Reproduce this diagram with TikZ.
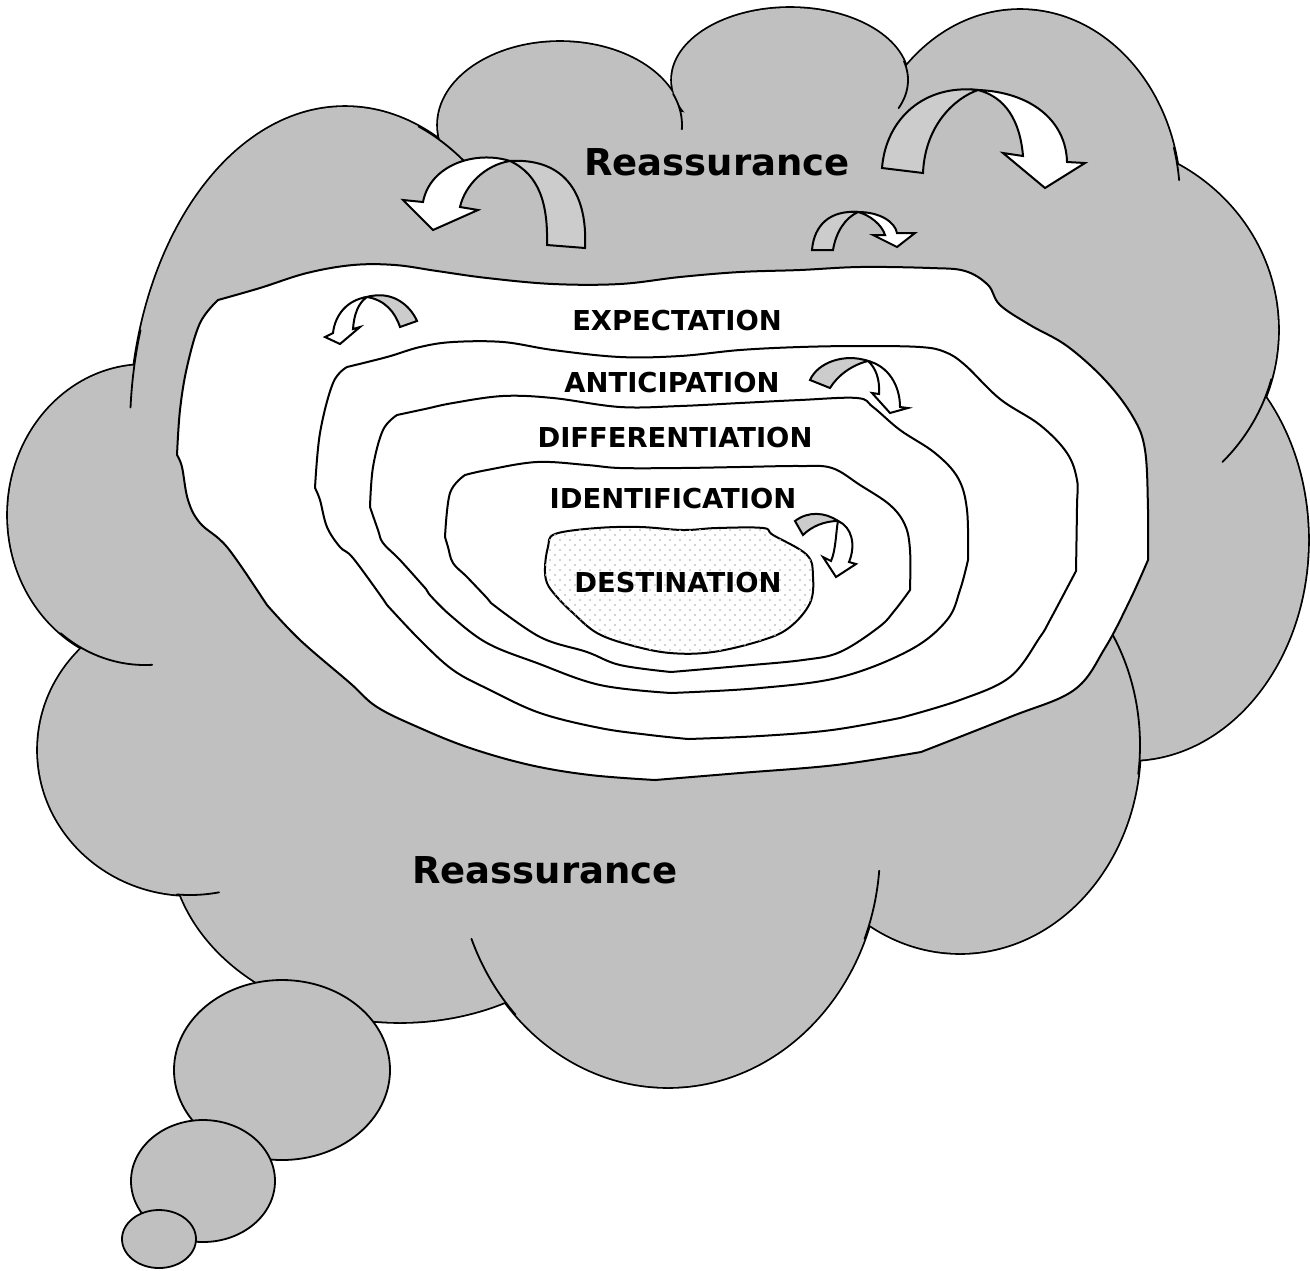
\documentclass[tikz,border=0pt]{standalone}
\usepackage{fontspec}
\setmainfont{DejaVu Sans}
\usetikzlibrary{patterns}
\definecolor{cloudgray}{RGB}{192,192,192}
\definecolor{ribbongray}{RGB}{204,204,204}
\definecolor{dotgray}{RGB}{196,196,196}

% staggered light dots for the innermost zone
\pgfdeclarepatternformonly{softdots}{\pgfqpoint{-1pt}{-1pt}}{\pgfqpoint{6pt}{6pt}}{\pgfqpoint{5pt}{5pt}}{%
  \pgfpathcircle{\pgfqpoint{0pt}{0pt}}{0.55pt}%
  \pgfpathcircle{\pgfqpoint{2.5pt}{2.5pt}}{0.55pt}%
  \pgfusepath{fill}}

% the lobes that make up the thought cloud
\newcommand\cloudlobes[1]{%
  \path[#1] (145,515) ellipse [x radius=137, y radius=150];
  \path[#1] (345,430) ellipse [x radius=215, y radius=323];
  \path[#1] (560,125) ellipse [x radius=122, y radius=83];
  \path[#1] (790,80) ellipse [x radius=118, y radius=72];
  \path[#1] (1020,200) ellipse [x radius=160, y radius=190];
  \path[#1] (1080,330) ellipse [x radius=198, y radius=190];
  \path[#1] (1130,540) ellipse [x radius=178, y radius=220];
  \path[#1] (960,745) ellipse [x radius=180, y radius=208];
  \path[#1] (668,850) ellipse [x radius=212, y radius=237];
  \path[#1] (400,840) ellipse [x radius=230, y radius=182];
  \path[#1] (190,750) ellipse [x radius=152, y radius=145];
}

% a piece of a lobe outline that runs on into the cloud
\newcommand\lobestub[6]{%
  \draw[cloudline] ({#1+#3*cos(#5)},{#2+#4*sin(#5)})
    arc [start angle=#5, end angle=#6, x radius=#3, y radius=#4];}

\begin{document}
\begin{tikzpicture}[x=0.5pt, y=-0.5pt,
  cloudline/.style={line width=0.9pt, line cap=round},
  bandline/.style={line width=1pt, line join=round},
  ribbonback/.style={draw, line width=1pt, fill=ribbongray, line join=miter},
  ribbonfront/.style={draw, line width=1pt, fill=white, line join=miter},
  layertext/.style={font=\bfseries\fontsize{13.7pt}{16pt}\selectfont, anchor=base, inner sep=0pt},
  cloudtext/.style={font=\bfseries\fontsize{18.5pt}{21pt}\selectfont, anchor=base, inner sep=0pt}]

\useasboundingbox (0,0) rectangle (1310,1270);

% cloud: outline first, then the fill hides the inner half of every stroke
\cloudlobes{draw, line width=1.8pt}
\cloudlobes{fill=cloudgray}
\fill[cloudgray] (460,300) -- (460,260) -- (470,175) -- (560,180) -- (680,112)
  -- (790,120) -- (880,110) -- (910,150) -- (900,300) -- cycle;

% outline pieces that continue inside the cloud
\lobestub{345}{430}{215}{323}{198}{184}
\lobestub{345}{430}{215}{323}{290}{306}
\lobestub{560}{125}{122}{83}{-22}{3}
\lobestub{790}{80}{118}{72}{-15}{23}
\lobestub{1020}{200}{160}{190}{-16}{-6}
\lobestub{1080}{330}{198}{190}{15}{44}
\lobestub{145}{515}{137}{150}{128}{87}
\lobestub{190}{750}{152}{145}{95}{79}
\lobestub{668}{850}{212}{237}{136}{158}
\lobestub{668}{850}{212}{237}{22}{5}
\lobestub{960}{745}{180}{208}{8}{-37}

% thought bubbles
\draw[cloudline, fill=cloudgray] (282,1070) ellipse [x radius=108, y radius=90];
\draw[cloudline, fill=cloudgray] (203,1181) ellipse [x radius=72, y radius=61];
\draw[cloudline, fill=cloudgray] (159,1239) ellipse [x radius=37, y radius=29];

% expectation zone
\path[draw, bandline, fill=white]
  plot[smooth, tension=0.6] coordinates {(218,300) (260,288) (307,273) (353,265) (395,265)
    (437,271) (487,278) (553,284) (620,284) (680,277) (740,272) (800,270) (860,267)
    (930,268) (965,271) (988,285) (1000,305) (1030,325) (1067,346) (1105,380)
    (1133,417) (1145,450) (1148,510) (1148,560)}
  -- plot[smooth, tension=0.6] coordinates {(1148,560) (1130,600) (1105,648) (1074,690)
    (1010,717) (921,752)}
  -- plot[smooth, tension=0.6] coordinates {(921,752) (836,765) (740,773) (655,780)}
  -- plot[smooth, tension=0.6] coordinates {(655,780) (590,775) (530,765) (470,748)
    (420,728) (377,707) (350,683) (300,640) (267,605)}
  -- plot[smooth, tension=0.6] coordinates {(263,599) (227,547) (200,523) (188,500)
    (182,467) (177,455)}
  -- plot[smooth, tension=0.6] coordinates {(177,455) (180,410) (187,367) (200,323) (218,300)}
  -- cycle;

% anticipation zone
\path[draw, bandline]
  plot[smooth, tension=0.6] coordinates {(347,367) (387,357) (420,347) (453,342) (503,342)
    (553,350) (620,357) (680,356) (740,350) (800,347) (860,346) (920,347) (945,352)
    (965,365) (1000,399) (1040,425) (1067,453) (1077,480) (1077,506) (1076,571)}
  -- plot[smooth, tension=0.6] coordinates {(1076,571) (1050,620) (1040,637) (1010,677)
    (960,700) (900,718)}
  -- plot[smooth, tension=0.6] coordinates {(900,718) (832,730) (760,736) (688,739)}
  -- plot[smooth, tension=0.6] coordinates {(688,739) (650,735) (600,728) (540,713)
    (490,690) (453,670) (420,640) (387,605)}
  -- plot[smooth, tension=0.6] coordinates {(383,599) (353,558) (340,547) (327,527)
    (320,500) (315,488)}
  -- plot[smooth, tension=0.6] coordinates {(315,488) (320,433) (333,383) (347,367)}
  -- cycle;

% differentiation zone
\path[draw, bandline]
  plot[smooth, tension=0.6] coordinates {(397,415) (425,409) (453,403) (503,396) (553,398)
    (620,407) (680,406) (740,403) (800,400) (857,398) (873,407) (900,430) (935,453)
    (958,478) (967,510) (968,560)}
  -- plot[smooth, tension=0.6] coordinates {(968,560) (960,590) (947,620) (910,650)
    (841,677) (760,688) (671,693)}
  -- plot[smooth, tension=0.6] coordinates {(671,693) (600,685) (537,663) (487,643)
    (450,615) (429,594)}
  -- plot[smooth, tension=0.6] coordinates {(426,589) (400,560) (383,543) (378,530) (370,507)}
  -- plot[smooth, tension=0.6] coordinates {(370,507) (373,467) (383,430) (397,415)}
  -- cycle;

% identification zone
\path[draw, bandline]
  plot[smooth, tension=0.6] coordinates {(465,475) (487,470) (537,462) (587,465) (620,468)
    (680,468) (740,467) (800,466) (832,468) (860,485) (890,505) (905,525) (910,550) (910,590)}
  -- plot[smooth, tension=0.6] coordinates {(910,590) (895,610) (879,627) (840,652)
    (803,660) (740,666) (671,672)}
  -- plot[smooth, tension=0.6] coordinates {(671,672) (620,665) (587,652) (540,637) (491,603)}
  -- plot[smooth, tension=0.6] coordinates {(487,598) (467,577) (453,563) (448,547) (445,537)}
  -- plot[smooth, tension=0.6] coordinates {(445,537) (450,493) (465,475)}
  -- cycle;

% destination
\path[draw, bandline, fill=white, postaction={pattern=softdots, pattern color=dotgray}]
  plot[smooth cycle, tension=0.6] coordinates {(555,534) (597,528) (640,527) (683,530)
    (717,528) (763,528) (773,535) (807,555) (813,577) (810,603) (790,627) (763,640)
    (713,652) (670,653) (630,645) (597,633) (573,613) (557,597) (547,583) (545,567) (548,547)};

% turning arrows: grey back of the ribbon, white front with the head
\path[ribbonback] (547,245) .. controls (548,205) and (540,175) .. (510,161)
  .. controls (560,158) and (588,188) .. (585,248) -- cycle;
\path[ribbonfront] (510,161) .. controls (475,150) and (430,165) .. (423,202)
  -- (403,200) -- (433,230) -- (478,210) -- (460,207)
  .. controls (465,185) and (485,165) .. (510,161) -- cycle;

\path[ribbonback] (882,168) .. controls (886,118) and (925,84) .. (978,90)
  .. controls (955,98) and (925,125) .. (923,173) -- cycle;
\path[ribbonfront] (978,90) .. controls (1030,92) and (1066,120) .. (1067,162)
  -- (1085,163) -- (1045,188) -- (1003,153) -- (1023,156)
  .. controls (1020,120) and (1005,97) .. (978,90) -- cycle;

\path[ribbonback] (812,250) .. controls (814,225) and (830,210) .. (858,212)
  .. controls (845,218) and (836,232) .. (833,250) -- cycle;
\path[ribbonfront] (858,212) .. controls (880,212) and (895,222) .. (897,233)
  -- (915,233) -- (897,247) -- (873,235) -- (885,235)
  .. controls (882,225) and (870,215) .. (858,212) -- cycle;

\path[ribbonback] (400,327) .. controls (395,312) and (385,300) .. (367,297)
  .. controls (392,290) and (410,305) .. (417,321) -- cycle;
\path[ribbonfront] (367,297) .. controls (347,300) and (335,315) .. (333,333)
  -- (325,337) -- (340,344) -- (360,327) -- (353,329)
  .. controls (354,315) and (358,303) .. (367,297) -- cycle;

\path[ribbonback] (810,380) .. controls (818,362) and (845,353) .. (868,361)
  .. controls (852,365) and (838,375) .. (830,388) -- cycle;
\path[ribbonfront] (868,361) .. controls (888,366) and (900,385) .. (900,407)
  -- (908,408) -- (890,413) -- (872,393) -- (879,394)
  .. controls (880,380) and (876,368) .. (868,361) -- cycle;

\path[ribbonback] (795,521) .. controls (808,511) and (825,512) .. (838,521)
  .. controls (825,521) and (812,526) .. (803,535) -- cycle;
\path[ribbonfront] (838,521) .. controls (852,527) and (856,545) .. (849,562)
  -- (856,564) -- (836,577) -- (823,557) -- (831,561)
  .. controls (836,550) and (836,530) .. (838,521) -- cycle;

% labels
\node[cloudtext] (reassTop) at (717,175) {Reassurance};
\node[cloudtext] (reassBot) at (545,883) {Reassurance};
\node[layertext] (expect) at (677,330) {EXPECTATION};
\node[layertext] (antic) at (672,392) {ANTICIPATION};
\node[layertext] (diff) at (675,447) {DIFFERENTIATION};
\node[layertext] (ident) at (673,508) {IDENTIFICATION};
\node[layertext] (dest) at (678,592) {DESTINATION};

\end{tikzpicture}
\end{document}
